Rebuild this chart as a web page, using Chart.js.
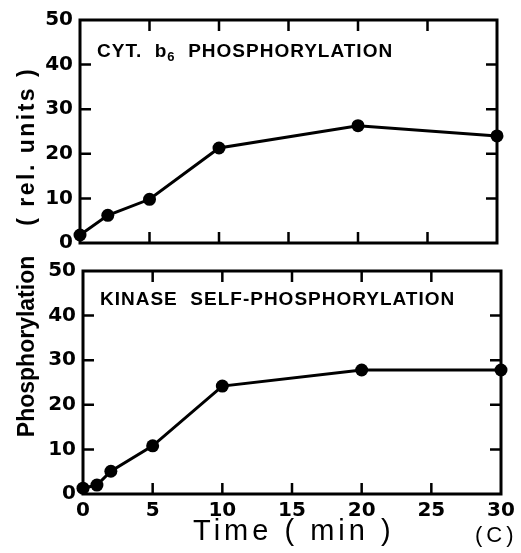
<!DOCTYPE html>
<html>
<head>
<meta charset="utf-8">
<script src="https://cdn.jsdelivr.net/npm/chart.js@4.4.1/dist/chart.umd.min.js"></script>
<style>
  html, body { margin:0; padding:0; background:#fff; }
  body { width:521px; height:553px; position:relative; overflow:hidden; font-family:"Liberation Sans", Arial, sans-serif; color:#000; }
  canvas { position:absolute; left:0; }
  .lbl { position:absolute; white-space:pre; color:#000; }
</style>
</head>
<body>
<canvas id="top" width="521" height="262" style="top:0px"></canvas>
<canvas id="bot" width="521" height="301" style="top:252px"></canvas>

<div class="lbl" style="left:97px; top:41px; font-size:19px; line-height:19px; font-weight:bold; letter-spacing:1px;">CYT.  b<span style="font-size:13px; position:relative; top:4px;">6</span>  PHOSPHORYLATION</div>
<div class="lbl" style="left:100px; top:289px; font-size:19px; line-height:19px; font-weight:bold; letter-spacing:1px;">KINASE  SELF-PHOSPHORYLATION</div>

<div class="lbl" style="left:-174px; top:237px; width:400px; height:30px; line-height:30px; text-align:center; transform:rotate(-90deg); font-weight:bold; font-size:23px;"><span>Phosphorylation</span><span style="display:inline-block; width:30px;"></span><span style="letter-spacing:2.5px;">( rel. units )</span></div>

<div class="lbl" style="left:193px; top:516px; font-size:29px; line-height:29px; letter-spacing:4px;">Time ( min )</div>
<div class="lbl" style="left:475px; top:524px; font-size:22px; line-height:22px; letter-spacing:4px;">(C)</div>

<script>
// ---- data ----
const timeCyt = [0, 2, 5, 10, 20, 30];
const cytValues = [1.8, 6.2, 9.8, 21.3, 26.3, 24.0];
const timeKinase = [0, 1, 2, 5, 10, 20, 30];
const kinaseValues = [1.3, 2.0, 5.1, 10.8, 24.2, 27.8, 27.8];
const xTicks = [0, 5, 10, 15, 20, 25, 30];
const yTicks = [0, 10, 20, 30, 40, 50];

Chart.defaults.font.family = '"DejaVu Sans", sans-serif';
Chart.defaults.color = '#000';

const framePlugin = {
  id: 'frame',
  beforeDatasetsDraw(chart) {
    const {ctx, chartArea: a, scales} = chart;
    const xs = scales.x, ys = scales.y;
    const tl = 11;
    ctx.save();
    ctx.strokeStyle = '#000';
    ctx.lineWidth = 2.5;
    ctx.beginPath();
    xTicks.slice(1, -1).forEach(v => {
      const px = xs.getPixelForValue(v);
      ctx.moveTo(px, a.bottom); ctx.lineTo(px, a.bottom - tl);
      ctx.moveTo(px, a.top); ctx.lineTo(px, a.top + tl);
    });
    yTicks.slice(1, -1).forEach(v => {
      const py = ys.getPixelForValue(v);
      ctx.moveTo(a.left, py); ctx.lineTo(a.left + tl, py);
      ctx.moveTo(a.right, py); ctx.lineTo(a.right - tl, py);
    });
    ctx.stroke();
    ctx.lineWidth = 3;
    ctx.strokeRect(a.left, a.top, a.right - a.left, a.bottom - a.top);
    ctx.restore();
  }
};

function makePanel(id, xs, ys, opts) {
  const data = xs.map((x, i) => ({x, y: ys[i]}));
  return new Chart(document.getElementById(id), {
    type: 'line',
    data: { datasets: [{
      data,
      borderColor: '#000',
      backgroundColor: '#000',
      borderWidth: 3,
      pointRadius: 6.5,
      pointBackgroundColor: '#000',
      pointBorderWidth: 0,
      tension: 0,
      clip: false
    }]},
    options: {
      responsive: false,
      devicePixelRatio: 1,
      animation: false,
      events: [],
      layout: { padding: opts.padding },
      plugins: { legend: {display:false}, tooltip: {enabled:false} },
      scales: {
        x: {
          type: 'linear', min: 0, max: 30,
          display: opts.showX,
          grid: { display:false, drawTicks:false },
          border: { display:false },
          afterBuildTicks: s => { s.ticks = xTicks.map(v => ({value:v})); },
          ticks: { padding: 5, font: { size: 20, weight: 'bold' }, maxRotation: 0, autoSkip:false },
          afterFit: s => { if (opts.xHeight) s.height = opts.xHeight; }
        },
        y: {
          type: 'linear', min: 0, max: 50,
          grid: { display:false, drawTicks:false },
          border: { display:false },
          afterBuildTicks: s => { s.ticks = yTicks.map(v => ({value:v})); },
          ticks: { padding: 7, font: { size: 20, weight: 'bold' }, autoSkip:false },
          afterFit: s => { s.width = opts.yWidth; }
        }
      }
    },
    plugins: [framePlugin]
  });
}

makePanel('top', timeCyt, cytValues, {
  padding: { top: 20, right: 24, bottom: 17, left: 0 },
  showX: false, yWidth: 80
});
makePanel('bot', timeKinase, kinaseValues, {
  padding: { top: 15, right: 20, bottom: 0, left: 0 },
  showX: true, xHeight: 59, yWidth: 83
});
</script>
</body>
</html>
